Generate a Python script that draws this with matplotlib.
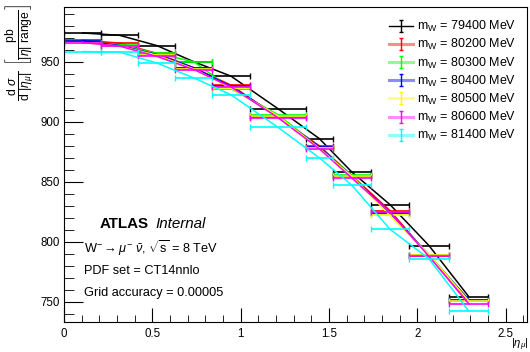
import numpy as np
import matplotlib
matplotlib.use("Agg")
import matplotlib.pyplot as plt
from matplotlib.lines import Line2D
from matplotlib.path import Path

plt.rcParams['font.family'] = ['Liberation Sans', 'DejaVu Sans']
plt.rcParams['mathtext.fontset'] = 'custom'
plt.rcParams['mathtext.rm'] = 'Liberation Sans'
plt.rcParams['mathtext.it'] = 'Liberation Sans:italic'
plt.rcParams['mathtext.bf'] = 'Liberation Sans:bold'

# |eta| bin edges
edges = [0, 0.21, 0.42, 0.63, 0.84, 1.05, 1.37, 1.52, 1.74, 1.95, 2.18, 2.4]

masses = [79400, 80200, 80300, 80400, 80500, 80600, 81400]
colors = ['black', '#ff0000', '#00ff00', '#0000ff', '#ffff00', '#ff00ff', '#00ffff']

# dsigma/d|eta| [pb] per bin, one list per W mass
xs_79400 = [974.0, 972.0, 963.5, 950.0, 938.0, 911.0, 886.0, 858.0, 831.0, 797.0, 754.5]
xs_80200 = [968.0, 965.5, 957.0, 945.0, 930.5, 904.0, 880.0, 855.0, 826.0, 788.5, 750.5]
xs_80300 = [967.0, 964.0, 957.0, 950.0, 927.5, 906.0, 878.5, 855.5, 823.0, 789.5, 751.5]
xs_80400 = [967.5, 963.5, 956.0, 945.0, 929.5, 904.5, 879.0, 854.5, 824.0, 789.0, 752.0]
xs_80500 = [966.0, 963.0, 955.5, 944.0, 928.0, 905.0, 878.0, 854.5, 822.0, 789.5, 751.0]
xs_80600 = [966.0, 963.0, 954.5, 943.5, 929.0, 903.5, 877.5, 853.0, 824.5, 788.0, 748.5]
xs_81400 = [958.5, 958.0, 949.0, 936.5, 922.5, 895.5, 870.0, 847.0, 810.5, 786.0, 742.5]

series = [xs_79400, xs_80200, xs_80300, xs_80400, xs_80500, xs_80600, xs_81400]

edges = np.array(edges)
centers = 0.5 * (edges[:-1] + edges[1:])
halfw = 0.5 * (edges[1:] - edges[:-1])

fig = plt.figure(figsize=(5.3, 3.52), dpi=100)
ax = fig.add_axes([64/530, 30/352, 463/530, 315/352])

# marker that looks like an error bar with caps (for legend)
ebar = Path([(0, -1), (0, 1), (-0.35, 1), (0.35, 1), (-0.35, -1), (0.35, -1)],
            [Path.MOVETO, Path.LINETO, Path.MOVETO, Path.LINETO, Path.MOVETO, Path.LINETO])

handles = []
labels = []
for m, c, vals in zip(masses, colors, series):
    ax.plot(centers, vals, color=c, lw=1.1)
    ax.errorbar(centers, vals, xerr=halfw, fmt='none', ecolor=c, elinewidth=1.2,
                capsize=2, capthick=1)
    if c == 'black':
        ln = Line2D([], [], color=c, lw=1)
    else:
        ln = Line2D([], [], color=c, lw=2.2, alpha=0.45)
    mk = Line2D([], [], color=c, marker=ebar, markersize=9, ls='none',
                markeredgewidth=1, markeredgecolor=c)
    handles.append((ln, mk))
    labels.append(r'm$_{\mathrm{W}}$ = %d MeV' % m)

ax.set_xlim(0, 2.62)
ax.set_ylim(733.3, 995.6)
ax.set_xticks([0, 0.5, 1, 1.5, 2, 2.5])
ax.set_xticklabels(['0', '0.5', '1', '1.5', '2', '2.5'])
ax.set_xticks(np.arange(0, 2.62, 0.1), minor=True)
ax.set_yticks([750, 800, 850, 900, 950])
ax.set_yticks(np.arange(740, 996, 10), minor=True)
ax.tick_params(which='both', direction='in', labelsize=8.3, top=False, right=False)
ax.tick_params(axis='y', which='major', length=14, pad=3)
ax.tick_params(axis='y', which='minor', length=7)
ax.tick_params(axis='x', which='major', length=10, pad=4)
ax.tick_params(axis='x', which='minor', length=5)
for s in ax.spines.values():
    s.set_linewidth(0.8)

ax.legend(handles, labels, loc='upper left', bbox_to_anchor=(0.702, 0.962),
          frameon=False, fontsize=9, handlelength=1.9, handletextpad=0.32,
          labelspacing=0.25, borderpad=0, borderaxespad=0)

fig.text(100/530, 1 - 224/352, 'ATLAS', fontsize=10.9, fontweight='bold', va='center')
fig.text(155/530, 1 - 224/352, 'Internal', fontsize=10.9, style='italic', va='center')
fig.text(84/530, 1 - 248/352, r'W$^{-}\rightarrow\mu^{-}\ \bar{\nu}$, $\sqrt{\mathrm{s}}$ = 8 TeV',
         fontsize=9.2, va='center')
fig.text(84/530, 1 - 271/352, 'PDF set = CT14nnlo', fontsize=9.2, va='center')
fig.text(84/530, 1 - 293/352, 'Grid accuracy = 0.00005', fontsize=9.2, va='center')

fig.text(20/530, 1 - 4/352,
         r'$\frac{\mathrm{d}\ \sigma}{\mathrm{d}\ |\eta_{\mu}|}\ \left[\frac{\mathrm{pb}}{|\eta|\ \mathrm{range}}\right]$',
         rotation=90, ha='center', va='top', fontsize=12.5)
fig.text(529/530, 1 - 345/352, r'$|\eta_{\mu}|$', ha='right', va='center', fontsize=8.2)

fig.savefig('out.png', dpi=100)
